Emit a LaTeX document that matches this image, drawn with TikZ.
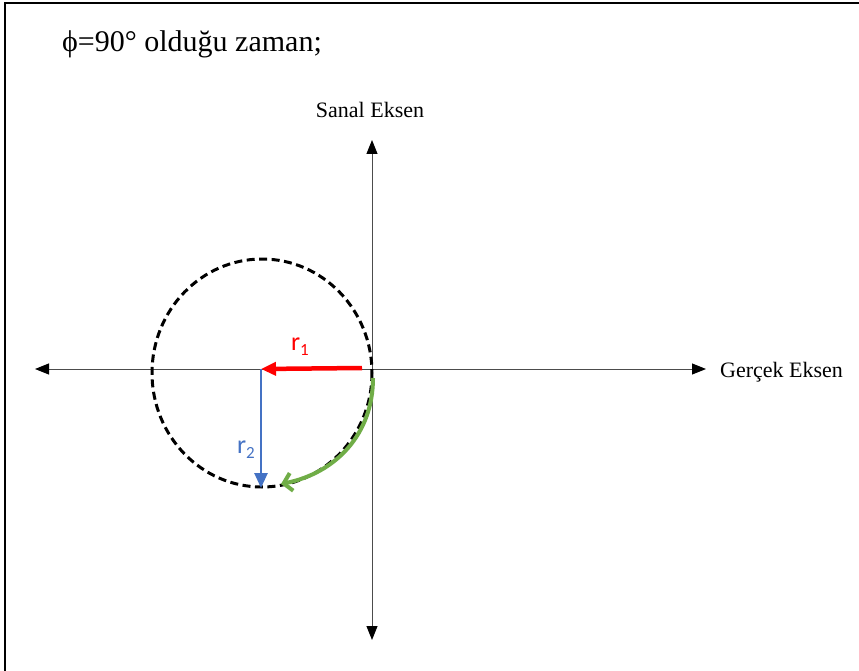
\documentclass[tikz,border=0pt]{standalone}
\usepackage{fontspec}
\setmainfont{Liberation Serif}
\newfontfamily\vecfont{Carlito}
\usetikzlibrary{arrows.meta,positioning}
\begin{document}
\begin{tikzpicture}[x=1pt,y=-1pt]
    \tikzstyle{axis} = [draw=black!70, line width=1pt, {Triangle[length=14pt,width=11pt,color=black]}-{Triangle[length=14pt,width=11pt,color=black]}]
    \tikzstyle{axislabel} = [font=\fontsize{22}{24}\selectfont, inner sep=0pt]
    \tikzstyle{vec} = [-{Triangle[length=15pt,width=13pt]}]
    \tikzstyle{veclabel} = [font=\vecfont\fontsize{26}{28}\selectfont, inner sep=0pt]

    \useasboundingbox (0,0) rectangle (859,671);
    \fill[white] (0,0) rectangle (859,671);
    % kenar
    \draw[line width=2pt] (5,671) -- (5,3) -- (859,3);

    \node (title) [anchor=base west, inner sep=0pt, font=\fontsize{30}{34}\selectfont] at (62,52) {ϕ=90° olduğu zaman;};

    \coordinate (O) at (372,369);
    \coordinate (C) at (261,369);
    \coordinate (left) at (35,369);
    \coordinate (right) at (706,369);
    \coordinate (top) at (372,140);
    \coordinate (bottom) at (372,640);
    \coordinate (r1start) at (362,368);
    \coordinate (r2end) at (261,488);

    \draw[axis] (left) -- (right);
    \draw[axis] (bottom) -- (top);
    \node (sanal) [axislabel, anchor=base] at (370,118) {Sanal Eksen};
    \node (gercek) [axislabel, anchor=base west] at (720,377) {Gerçek Eksen};

    % daire
    \draw[line width=3pt, dash pattern=on 8pt off 4.5pt] (262,373) ellipse [x radius=110, y radius=114];

    \draw[vec, red, line width=4.5pt] (r1start) -- (C);
    \draw[vec, color={rgb,255:red,68;green,114;blue,196}, line width=2.6pt] (C) -- (r2end);
    \node (r1) [veclabel, red, anchor=base] at (300,350) {r\raisebox{-5pt}{\fontsize{17}{17}\selectfont 1}};
    \node (r2) [veclabel, color={rgb,255:red,68;green,114;blue,196}, anchor=base] at (246,453) {r\raisebox{-5pt}{\fontsize{17}{17}\selectfont 2}};

    % donus
    \draw[color={rgb,255:red,112;green,173;blue,71}, line width=4pt, -{Straight Barb[length=8pt,width=18pt]}]
        (373,378) .. controls (373,434) and (336,473) .. (281,484);
\end{tikzpicture}
\end{document}
